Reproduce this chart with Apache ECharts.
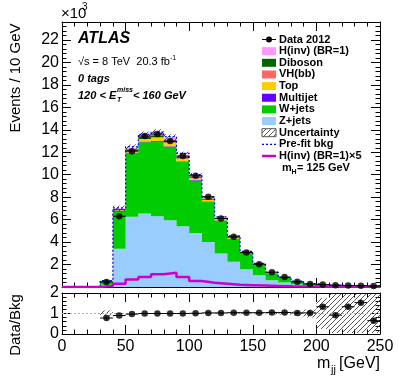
<!DOCTYPE html>
<html>
<head>
<meta charset="utf-8">
<title>mjj 0 tags</title>
<script src="https://cdn.jsdelivr.net/npm/echarts@6/dist/echarts.min.js"></script>
<style>
  body { margin: 0; background: #fff; }
  #chart { width: 399px; height: 383px; }
</style>
</head>
<body>
<div id="chart"></div>
<script>
// bins: 10 GeV wide, low edges in GeV
const binLow = [30, 40, 50, 60, 70, 80, 90, 100, 110, 120, 130, 140, 150, 160, 170, 180, 190, 200, 210, 220, 230, 240];
const binWidth = 10;

// stacked components, events x 10^3 (bottom -> top)
const zjets    = [0.20, 3.40, 6.25, 6.55, 6.30, 5.95, 5.42, 4.80, 4.00, 2.98, 2.24, 1.59, 1.05, 0.60, 0.40, 0.25, 0.15, 0.09, 0.07, 0.05, 0.04, 0.05];
const wjets    = [0.29, 3.30, 5.63, 6.33, 6.64, 6.53, 5.73, 4.69, 3.62, 2.95, 2.08, 1.43, 0.92, 0.60, 0.40, 0.22, 0.13, 0.07, 0.09, 0.045, 0.035, 0.065];
const multijet = [0.02, 0.08, 0.10, 0.08, 0.06, 0.05, 0.04, 0.03, 0.02, 0.02, 0.01, 0.01, 0.01, 0.005, 0.005, 0.005, 0.003, 0.002, 0.002, 0.001, 0.001, 0.001];
const topq     = [0.01, 0.05, 0.12, 0.20, 0.30, 0.30, 0.22, 0.15, 0.10, 0.08, 0.05, 0.03, 0.02, 0.02, 0.01, 0.01, 0.005, 0.003, 0.003, 0.002, 0.002, 0.002];
const vhbb     = [0.00, 0.01, 0.02, 0.03, 0.04, 0.05, 0.06, 0.05, 0.04, 0.03, 0.02, 0.02, 0.01, 0.01, 0.005, 0.004, 0.003, 0.002, 0.001, 0.001, 0.001, 0.001];
const diboson  = [0.01, 0.10, 0.15, 0.18, 0.18, 0.17, 0.15, 0.12, 0.10, 0.08, 0.06, 0.04, 0.03, 0.02, 0.01, 0.01, 0.005, 0.004, 0.003, 0.002, 0.002, 0.002];
const hinv     = [0.02, 0.06, 0.13, 0.18, 0.23, 0.25, 0.18, 0.11, 0.07, 0.056, 0.04, 0.03, 0.026, 0.02, 0.014, 0.01, 0.008, 0.006, 0.005, 0.004, 0.003, 0.002];

// overlaid lines
const hinvX5   = [0.10, 0.30, 0.67, 0.90, 1.14, 1.26, 0.90, 0.54, 0.37, 0.28, 0.19, 0.16, 0.13, 0.10, 0.07, 0.05, 0.04, 0.03, 0.025, 0.02, 0.015, 0.01];
const prefit   = [0.56, 7.05, 12.5, 13.6, 13.8, 13.4, 11.9, 10.0, 8.00, 6.25, 4.55, 3.18, 2.10, 1.30, 0.86, 0.52, 0.31, 0.18, 0.18, 0.11, 0.09, 0.12];
const uncMain  = [0.05, 0.25, 0.30, 0.30, 0.30, 0.30, 0.25, 0.20, 0.15, 0.12, 0.10, 0.08, 0.06, 0.05, 0.04, 0.03, 0.03, 0.03, 0.03, 0.03, 0.03, 0.03];

// data
const data2012 = [0.45, 6.30, 12.10, 13.44, 13.62, 13.00, 11.66, 9.90, 8.03, 6.10, 4.47, 3.07, 2.03, 1.32, 0.88, 0.46, 0.27, 0.22, 0.16, 0.13, 0.12, 0.08];

// ratio panel
const ratio    = [0.78, 0.90, 0.97, 1.00, 1.00, 1.00, 1.00, 1.01, 1.03, 1.03, 1.04, 1.04, 1.04, 1.05, 1.05, 1.03, 1.03, 1.33, 0.92, 1.33, 1.53, 0.65];
const ratioErr = [0.08, 0.02, 0.01, 0.01, 0.01, 0.01, 0.01, 0.01, 0.01, 0.02, 0.02, 0.02, 0.03, 0.04, 0.05, 0.06, 0.08, 0.10, 0.10, 0.12, 0.12, 0.12];
const ratioUnc = [0.15, 0.03, 0.02, 0.02, 0.02, 0.02, 0.02, 0.02, 0.02, 0.02, 0.03, 0.03, 0.04, 0.05, 0.06, 0.10, 0.20, 0.75, 0.95, 0.95, 0.95, 0.95];

const xTicks = [0, 50, 100, 150, 200, 250];

const font = 'Liberation Sans';

const layers = [
  { name: 'Z+jets', vals: zjets, color: '#99ccff' },
  { name: 'W+jets', vals: wjets, color: '#00cc00' },
  { name: 'Multijet', vals: multijet, color: '#6600ff' },
  { name: 'Top', vals: topq, color: '#ffcc00' },
  { name: 'VH(bb)', vals: vhbb, color: '#ff6666' },
  { name: 'Diboson', vals: diboson, color: '#006600' },
  { name: 'H(inv) (BR=1)', vals: hinv, color: '#ff99ff' }
];

function hatch(color) {
  const c = document.createElement('canvas');
  c.width = 5; c.height = 5;
  const g = c.getContext('2d');
  g.strokeStyle = color;
  g.lineWidth = 0.9;
  g.beginPath();
  g.moveTo(0, 5); g.lineTo(5, 0);
  g.moveTo(-1, 1); g.lineTo(1, -1);
  g.moveTo(4, 6); g.lineTo(6, 4);
  g.stroke();
  return { image: c, repeat: 'repeat' };
}
const hatchFill = hatch('#444');

// one filled step polygon per stacked layer
const base = binLow.map(() => 0);
const stackSeries = layers.map(function (l) {
  const rows = binLow.map(function (x, i) {
    const y0 = base[i];
    const y1 = y0 + l.vals[i];
    base[i] = y1;
    return [x, x + binWidth, y0, y1];
  });
  return {
    type: 'custom', xAxisIndex: 0, yAxisIndex: 0, silent: true, z: 2,
    encode: { x: [0, 1], y: [2, 3] },
    data: rows,
    renderItem: function (params, api) {
      if (params.dataIndex !== 0) return null;
      const topPts = [], botPts = [];
      rows.forEach(function (r) {
        topPts.push(api.coord([r[0], r[3]]), api.coord([r[1], r[3]]));
        botPts.push(api.coord([r[0], r[2]]), api.coord([r[1], r[2]]));
      });
      return { type: 'polygon', shape: { points: topPts.concat(botPts.reverse()) }, style: { fill: l.color } };
    }
  };
});
const total = base.slice();

function rectItem(fill) {
  return function (params, api) {
    const a = api.coord([api.value(0), api.value(3)]);
    const b = api.coord([api.value(1), api.value(2)]);
    return { type: 'rect', shape: { x: a[0], y: a[1], width: b[0] - a[0], height: b[1] - a[1] }, style: { fill: fill } };
  };
}

function errItem(params, api) {
  const x0 = api.value(0), x1 = api.value(1), y = api.value(2), e = api.value(3);
  const l = api.coord([x0, y]), r = api.coord([x1, y]);
  const lo = api.coord([(x0 + x1) / 2, y - e]), hi = api.coord([(x0 + x1) / 2, y + e]);
  return {
    type: 'group', children: [
      { type: 'line', shape: { x1: l[0], y1: l[1], x2: r[0], y2: r[1] }, style: { stroke: '#000', lineWidth: 1 } },
      { type: 'line', shape: { x1: lo[0], y1: lo[1], x2: hi[0], y2: hi[1] }, style: { stroke: '#000', lineWidth: 1 } }
    ]
  };
}

const mainUncRows = binLow.map((x, i) => [x, x + binWidth, total[i] - uncMain[i], total[i] + uncMain[i]]);
const ratioUncRows = binLow.map((x, i) => [x, x + binWidth, Math.max(0, 1 - ratioUnc[i]), Math.min(2, 1 + ratioUnc[i])]);

const signalLine = [[0, 0]].concat(binLow.map((x, i) => [x, hinvX5[i]])).concat([[250, hinvX5[hinvX5.length - 1]]]);
const prefitLine = [[binLow[0], 0]].concat(binLow.map((x, i) => [x, prefit[i]])).concat([[250, prefit[prefit.length - 1]], [250, 0]]);

const axisColor = '#000';
function xAxisCfg(grid, pos, labels) {
  return {
    type: 'value', gridIndex: grid, position: pos, min: 0, max: 250, interval: 50,
    axisLine: { show: true, onZero: false, lineStyle: { color: axisColor, width: 1 } },
    axisTick: { show: true, inside: true, length: 9, lineStyle: { color: axisColor } },
    minorTick: { show: true, splitNumber: 5, length: 4.5, lineStyle: { color: axisColor } },
    splitLine: { show: false },
    axisLabel: { show: labels, color: '#000', fontFamily: font, fontSize: 16, margin: 5 }
  };
}
function yAxisCfg(grid, pos, max, interval, labels, fmt) {
  return {
    type: 'value', gridIndex: grid, position: pos, min: 0, max: max, interval: interval,
    axisLine: { show: true, onZero: false, lineStyle: { color: axisColor, width: 1 } },
    axisTick: { show: true, inside: true, length: 9, lineStyle: { color: axisColor } },
    minorTick: { show: true, splitNumber: 5, length: 4.5, lineStyle: { color: axisColor } },
    splitLine: { show: false },
    axisLabel: { show: labels, color: '#000', fontFamily: font, fontSize: 16, margin: 3, formatter: fmt }
  };
}

// legend entries drawn as graphic
const legendRows = [
  { label: 'Data 2012', kind: 'data' },
  { label: 'H(inv) (BR=1)', kind: 'box', color: '#ff99ff' },
  { label: 'Diboson', kind: 'box', color: '#006600' },
  { label: 'VH(bb)', kind: 'box', color: '#ff6666' },
  { label: 'Top', kind: 'box', color: '#ffcc00' },
  { label: 'Multijet', kind: 'box', color: '#6600ff' },
  { label: 'W+jets', kind: 'box', color: '#00cc00' },
  { label: 'Z+jets', kind: 'box', color: '#99ccff' },
  { label: 'Uncertainty', kind: 'hatch' },
  { label: 'Pre-fit bkg', kind: 'dotted' },
  { label: 'H(inv) (BR=1)\u00d75', kind: 'line' },
  { label: 'mH', kind: 'mh' }
];
const legX = 262, legTextX = 279, legY0 = 39.5, legStep = 11.65;
const graphics = [];
legendRows.forEach(function (r, i) {
  const y = legY0 + i * legStep;
  if (r.kind === 'data') {
    graphics.push({ type: 'line', shape: { x1: legX, y1: y, x2: legX + 14, y2: y }, style: { stroke: '#000', lineWidth: 1 } });
    graphics.push({ type: 'circle', shape: { cx: legX + 7, cy: y, r: 3 }, style: { fill: '#000' } });
  } else if (r.kind === 'box') {
    graphics.push({ type: 'rect', shape: { x: legX, y: y - 4, width: 14, height: 8 }, style: { fill: r.color } });
  } else if (r.kind === 'hatch') {
    graphics.push({ type: 'rect', shape: { x: legX, y: y - 4, width: 14, height: 8 }, style: { fill: hatchFill, stroke: '#555', lineWidth: 1 } });
  } else if (r.kind === 'dotted') {
    graphics.push({ type: 'line', shape: { x1: legX, y1: y, x2: legX + 14, y2: y }, style: { stroke: '#0000ff', lineWidth: 1.2, lineDash: [2, 2] } });
  } else if (r.kind === 'line') {
    graphics.push({ type: 'line', shape: { x1: legX, y1: y, x2: legX + 14, y2: y }, style: { stroke: '#cc00cc', lineWidth: 2.5 } });
  }
  if (r.kind === 'mh') {
    graphics.push({ type: 'text', x: legTextX + 3, y: y, style: { text: 'm', font: 'bold 11px ' + font, fill: '#000', textVerticalAlign: 'middle' } });
    graphics.push({ type: 'text', x: legTextX + 12.5, y: y + 4, style: { text: 'H', font: 'bold 7px ' + font, fill: '#000', textVerticalAlign: 'middle' } });
    graphics.push({ type: 'text', x: legTextX + 18, y: y, style: { text: '= 125 GeV', font: 'bold 11px ' + font, fill: '#000', textVerticalAlign: 'middle' } });
  } else {
    graphics.push({ type: 'text', x: legTextX, y: y, style: { text: r.label, font: 'bold 11px ' + font, fill: '#000', textVerticalAlign: 'middle' } });
  }
});

// annotations
graphics.push(
  { type: 'text', x: 61, y: 14, style: { text: '\u00d710', font: '15px ' + font, fill: '#000', textVerticalAlign: 'middle' } },
  { type: 'text', x: 82, y: 7, style: { text: '3', font: '10px ' + font, fill: '#000', textVerticalAlign: 'middle' } },
  { type: 'text', x: 78, y: 39, style: { text: 'ATLAS', font: 'italic bold 16px ' + font, fill: '#000', textVerticalAlign: 'middle' } },
  { type: 'text', x: 78, y: 62, style: { text: '\u221as = 8 TeV  20.3 fb', font: '11px ' + font, fill: '#000', textVerticalAlign: 'middle' } },
  { type: 'text', x: 170, y: 58, style: { text: '-1', font: '7px ' + font, fill: '#000', textVerticalAlign: 'middle' } },
  { type: 'text', x: 78, y: 79, style: { text: '0 tags', font: 'italic bold 11px ' + font, fill: '#000', textVerticalAlign: 'middle' } },
  { type: 'text', x: 78, y: 96, style: { text: '120 < E', font: 'italic bold 11px ' + font, fill: '#000', textVerticalAlign: 'middle' } },
  { type: 'text', x: 117, y: 90, style: { text: 'miss', font: 'italic bold 7px ' + font, fill: '#000', textVerticalAlign: 'middle' } },
  { type: 'text', x: 117, y: 100, style: { text: 'T', font: 'italic bold 7px ' + font, fill: '#000', textVerticalAlign: 'middle' } },
  { type: 'text', x: 133, y: 96, style: { text: '< 160 GeV', font: 'italic bold 11px ' + font, fill: '#000', textVerticalAlign: 'middle' } },
  { type: 'text', x: 16, y: 78, rotation: Math.PI / 2, style: { text: 'Events / 10 GeV', font: '15px ' + font, fill: '#000', textAlign: 'center', textVerticalAlign: 'middle' } },
  { type: 'text', x: 16, y: 325, rotation: Math.PI / 2, style: { text: 'Data/Bkg', font: '15px ' + font, fill: '#000', textAlign: 'center', textVerticalAlign: 'middle' } },
  { type: 'text', x: 317, y: 364, style: { text: 'm', font: '16px ' + font, fill: '#000', textVerticalAlign: 'middle' } },
  { type: 'text', x: 331, y: 370, style: { text: 'jj', font: '11px ' + font, fill: '#000', textVerticalAlign: 'middle' } },
  { type: 'text', x: 380, y: 364, style: { text: '[GeV]', font: '16px ' + font, fill: '#000', textAlign: 'right', textVerticalAlign: 'middle' } }
);

const chart = echarts.init(document.getElementById('chart'), null, { renderer: 'canvas' });
chart.setOption({
  animation: false,
  backgroundColor: '#fff',
  textStyle: { fontFamily: font },
  grid: [
    { left: 62, right: 19, top: 22, height: 265, outerBoundsMode: 'none' },
    { left: 62, right: 19, top: 293, height: 41, outerBoundsMode: 'none' }
  ],
  xAxis: [
    xAxisCfg(0, 'bottom', false),
    xAxisCfg(0, 'top', false),
    xAxisCfg(1, 'bottom', true),
    xAxisCfg(1, 'top', false)
  ],
  yAxis: [
    yAxisCfg(0, 'left', 23.6, 2, true, v => (v > 0 && v <= 22 && Math.abs(v % 2) < 1e-6) ? String(v) : ''),
    yAxisCfg(0, 'right', 23.6, 2, false),
    yAxisCfg(1, 'left', 2, 1, true, v => (Math.abs(v - Math.round(v)) < 1e-6) ? String(v) : ''),
    yAxisCfg(1, 'right', 2, 1, false)
  ],
  graphic: graphics,
  series: stackSeries.concat([
    {
      type: 'custom', xAxisIndex: 0, yAxisIndex: 0, silent: true, z: 3,
      encode: { x: [0, 1], y: [2, 3] }, data: mainUncRows, renderItem: rectItem(hatchFill)
    },
    {
      type: 'line', xAxisIndex: 0, yAxisIndex: 0, step: 'end', showSymbol: false, silent: true, z: 4,
      data: prefitLine, lineStyle: { color: '#0000ff', width: 1.2, type: [2, 2] }
    },
    {
      type: 'line', xAxisIndex: 0, yAxisIndex: 0, step: 'end', showSymbol: false, silent: true, z: 5,
      data: signalLine, lineStyle: { color: '#cc00cc', width: 2.5 }
    },
    {
      type: 'custom', xAxisIndex: 0, yAxisIndex: 0, silent: true, z: 6,
      encode: { x: [0, 1], y: 2 },
      data: binLow.map((x, i) => [x, x + binWidth, data2012[i], 0]), renderItem: errItem
    },
    {
      type: 'scatter', xAxisIndex: 0, yAxisIndex: 0, silent: true, z: 7,
      symbol: 'circle', symbolSize: 6.5, itemStyle: { color: '#000' },
      data: binLow.map((x, i) => [x + binWidth / 2, data2012[i]])
    },
    {
      type: 'custom', xAxisIndex: 2, yAxisIndex: 2, silent: true, z: 3,
      encode: { x: [0, 1], y: [2, 3] }, data: ratioUncRows, renderItem: rectItem(hatchFill)
    },
    {
      type: 'custom', xAxisIndex: 2, yAxisIndex: 2, silent: true, z: 6,
      encode: { x: [0, 1], y: 2 },
      data: binLow.map((x, i) => [x, x + binWidth, ratio[i], ratioErr[i]]), renderItem: errItem
    },
    {
      type: 'scatter', xAxisIndex: 2, yAxisIndex: 2, silent: true, z: 7,
      symbol: 'circle', symbolSize: 6.5, itemStyle: { color: '#000' },
      data: binLow.map((x, i) => [x + binWidth / 2, ratio[i]]),
      markLine: {
        silent: true, symbol: 'none', label: { show: false },
        lineStyle: { color: '#aaa', type: [2, 2], width: 1 },
        data: [{ yAxis: 1 }]
      }
    }
  ])
});
</script>
</body>
</html>
